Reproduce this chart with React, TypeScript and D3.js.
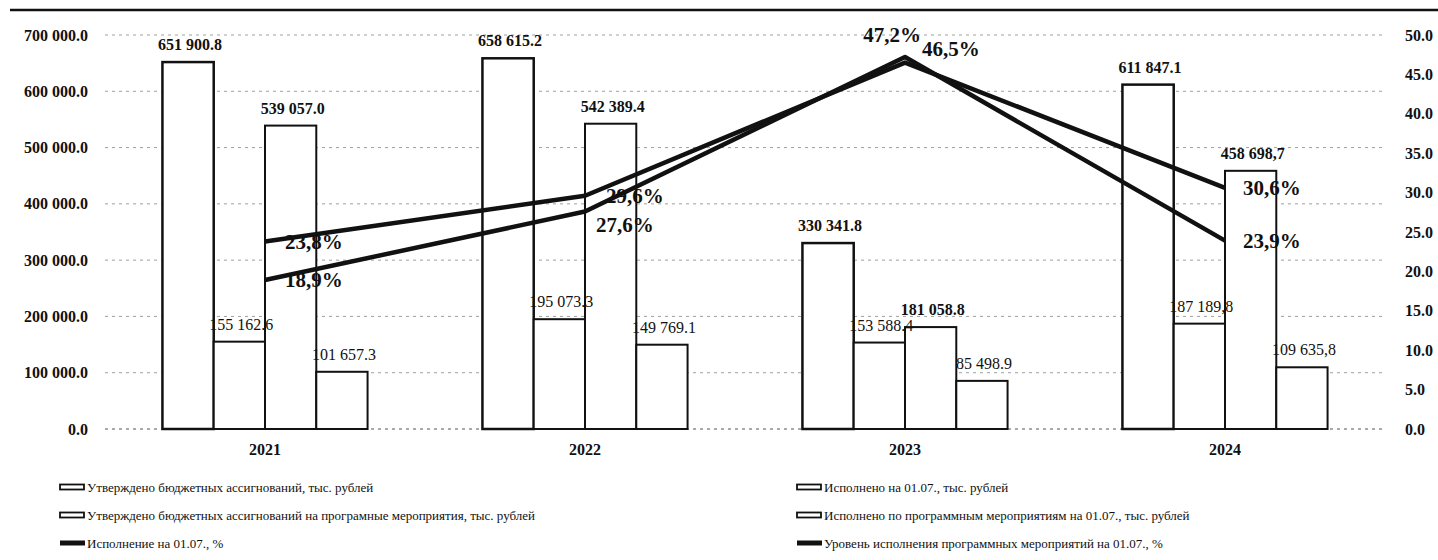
import * as d3 from 'd3'

// Budget execution by year
const years = ['2021', '2022', '2023', '2024']
const approved = [651900.8, 658615.2, 330341.8, 611847.1]
const executed = [155162.6, 195073.3, 153588.4, 187189.8]
const approvedProg = [539057.0, 542389.4, 181058.8, 458698.7]
const executedProg = [101657.3, 149769.1, 85498.9, 109635.8]
const execPct = [23.8, 29.6, 46.5, 30.6]
const progPct = [18.9, 27.6, 47.2, 23.9]

// bar value labels as printed (the source mixes '.' and ',')
const approvedLabels = ['651 900.8', '658 615.2', '330 341.8', '611 847.1']
const executedLabels = ['155 162.6', '195 073.3', '153 588.4', '187 189,8']
const approvedProgLabels = ['539 057.0', '542 389.4', '181 058.8', '458 698,7']
const executedProgLabels = ['101 657.3', '149 769.1', '85 498.9', '109 635,8']

const leftTicks = d3.range(0, 700001, 100000)
const rightTicks = d3.range(0, 50.01, 5)

const FONT = '"Liberation Serif", "Times New Roman", serif'

const barSeries = [
  { key: 'approved', name: 'Утверждено бюджетных ассигнований, тыс. рублей', values: approved, labels: approvedLabels, bold: true, sw: 2.5 },
  { key: 'executed', name: 'Исполнено на 01.07., тыс. рублей', values: executed, labels: executedLabels, bold: false, sw: 2 },
  { key: 'approvedProg', name: 'Утверждено бюджетных ассигнований на програмные мероприятия, тыс. рублей', values: approvedProg, labels: approvedProgLabels, bold: true, sw: 2 },
  { key: 'executedProg', name: 'Исполнено по программным мероприятиям на 01.07., тыс. рублей', values: executedProg, labels: executedProgLabels, bold: false, sw: 2 },
]

// label offsets relative to each line point: dx, dy, anchor
const lineSeries = [
  { key: 'exec', name: 'Исполнение на 01.07., %', values: execPct, offsets: [[20, 0, 'start'], [21, 0, 'start'], [17, -14, 'start'], [18, 0, 'start']] },
  { key: 'prog', name: 'Уровень исполнения программных мероприятий на 01.07., %', values: progPct, offsets: [[20, 0, 'start'], [11, 13, 'start'], [-13, -22, 'middle'], [18, 0, 'start']] },
]

export default function App() {
  const width = 1438
  const height = 560
  const plot = { left: 105, right: 1385, top: 35, bottom: 429 }

  const x0 = d3.scaleBand<string>().domain(years).range([plot.left, plot.right])
  const x1 = d3
    .scaleBand<string>()
    .domain(barSeries.map((s) => s.key))
    .range([0, x0.bandwidth()])
    .paddingOuter(1.12)
  const yLeft = d3.scaleLinear().domain([0, 700000]).range([plot.bottom, plot.top])
  const yRight = d3.scaleLinear().domain([0, 50]).range([plot.bottom, plot.top])

  const fmtLeft = (v: number) => d3.format(',.1f')(v).replace(/,/g, ' ')
  const fmtRight = d3.format('.1f')
  const fmtPct = (v: number) => d3.format('.1f')(v).replace('.', ',') + '%'

  const line = d3
    .line<number>()
    .x((_, i) => (x0(years[i]) as number) + x0.bandwidth() / 2)
    .y((d) => yRight(d))

  // legend: rows of two
  const legendItems = [
    ...barSeries.map((s) => ({ type: 'bar', name: s.name })),
    ...lineSeries.map((s) => ({ type: 'line', name: s.name })),
  ]

  return (
    <div style={{ position: 'absolute', left: 0, top: 0 }}>
      <svg width={width} height={height} style={{ display: 'block', background: '#fff' }} fontFamily={FONT}>
        {/* top frame line */}
        <line x1={10} x2={width} y1={10} y2={10} stroke="#111" strokeWidth={2.5} />

        {/* grid */}
        {leftTicks.map((t) => (
          <line
            key={'g' + t}
            x1={plot.left}
            x2={plot.right}
            y1={yLeft(t)}
            y2={yLeft(t)}
            stroke={t === 0 ? '#555' : '#a0a0a0'}
            strokeWidth={1}
            strokeDasharray="3 4"
          />
        ))}

        {/* left axis */}
        {leftTicks.map((t) => (
          <text key={'l' + t} x={88} y={yLeft(t)} dy="0.35em" textAnchor="end" fontSize={16} fontWeight="bold" fill="#111">
            {fmtLeft(t)}
          </text>
        ))}

        {/* right axis */}
        {rightTicks.map((t) => (
          <text key={'r' + t} x={1405} y={yRight(t)} dy="0.35em" textAnchor="start" fontSize={16} fontWeight="bold" fill="#111">
            {fmtRight(t)}
          </text>
        ))}

        {/* x axis labels */}
        {years.map((yr) => (
          <text key={'x' + yr} x={(x0(yr) as number) + x0.bandwidth() / 2} y={449} dy="0.35em" textAnchor="middle" fontSize={16} fontWeight="bold" fill="#111">
            {yr}
          </text>
        ))}

        {/* bars */}
        {years.map((yr, i) => (
          <g key={'bars' + yr} transform={`translate(${x0(yr)},0)`}>
            {barSeries.map((s) => (
              <rect
                key={s.key}
                x={x1(s.key)}
                y={yLeft(s.values[i])}
                width={x1.bandwidth()}
                height={yLeft(0) - yLeft(s.values[i])}
                fill="#fff"
                stroke="#111"
                strokeWidth={s.sw}
              />
            ))}
          </g>
        ))}

        {/* lines */}
        {lineSeries.map((s) => (
          <path key={s.key} d={line(s.values) as string} fill="none" stroke="#111" strokeWidth={4.5} strokeLinejoin="round" />
        ))}

        {/* bar value labels */}
        {years.map((yr, i) => (
          <g key={'bl' + yr} transform={`translate(${x0(yr)},0)`}>
            {barSeries.map((s) => (
              <text
                key={s.key}
                x={(x1(s.key) as number) + x1.bandwidth() / 2 + 2}
                y={yLeft(s.values[i]) - 12}
                textAnchor="middle"
                fontSize={16}
                fontWeight={s.bold ? 'bold' : 'normal'}
                fill="#111"
              >
                {s.labels[i]}
              </text>
            ))}
          </g>
        ))}

        {/* percent labels */}
        {lineSeries.map((s) =>
          s.values.map((v, i) => {
            const [dx, dy, anchor] = s.offsets[i] as [number, number, string]
            return (
              <text
                key={s.key + i}
                x={(x0(years[i]) as number) + x0.bandwidth() / 2 + dx}
                y={yRight(v) + dy}
                dy="0.35em"
                textAnchor={anchor}
                fontSize={21}
                fontWeight="bold"
                fill="#111"
              >
                {fmtPct(v)}
              </text>
            )
          })
        )}

        {/* legend */}
        {legendItems.map((it, k) => {
          const col = k % 2
          const row = Math.floor(k / 2)
          const lx = col === 0 ? 60 : 797
          const ly = 487 + row * 28
          return (
            <g key={'lg' + k} transform={`translate(${lx},${ly})`}>
              {it.type === 'bar' ? (
                <rect x={0} y={-2.5} width={24} height={5} fill="#fff" stroke="#111" strokeWidth={1.8} />
              ) : (
                <line x1={0} x2={25} y1={0} y2={0} stroke="#111" strokeWidth={5} />
              )}
              <text x={27} y={0} dy="0.35em" fontSize={13} fill="#111">
                {it.name}
              </text>
            </g>
          )
        })}
      </svg>
    </div>
  )
}
